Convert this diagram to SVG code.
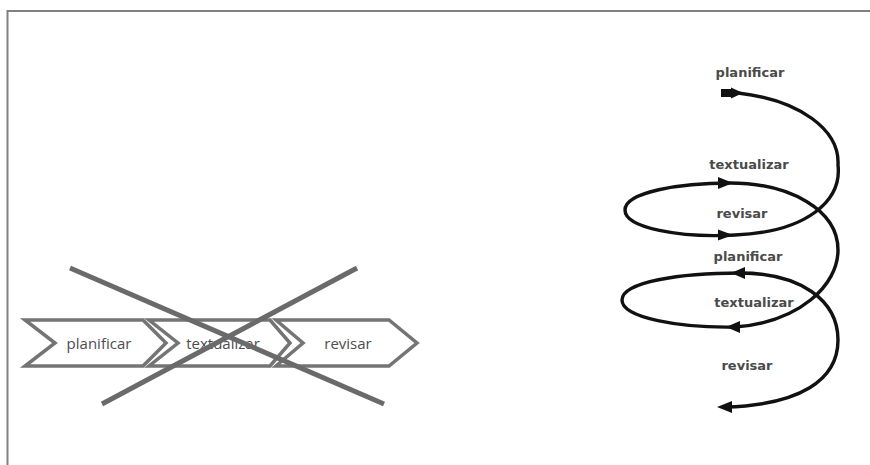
<svg xmlns="http://www.w3.org/2000/svg" width="870" height="465" viewBox="0 0 870 465">
<style>
.frame{stroke:#808080;stroke-width:2;fill:none}
.chev{fill:#fff;stroke:#747474;stroke-width:3.5;stroke-linejoin:miter}
.clab{font-family:"Open Sans","DejaVu Sans",sans-serif;font-size:15px;fill:#4d4d4d;text-anchor:middle}
.cross{stroke:#6a6a6a;stroke-width:5;stroke-linecap:butt}
.slab{font-family:"DejaVu Sans","Liberation Sans",sans-serif;font-weight:bold;font-size:13px;fill:#4a4a4a;text-anchor:middle}
.spiral{fill:none;stroke:#111;stroke-width:3.4}
.head{fill:#111}
</style>
<rect width="870" height="465" fill="#fff"/>
<g id="frame">
<line class="frame" x1="7.5" y1="11" x2="870" y2="11"/>
<line class="frame" x1="7.5" y1="10" x2="7.5" y2="465"/>
</g>
<g id="chev-planificar">
<polygon class="chev" points="25,320 143,320 166,343 143,366 25,366 55,343"/>
<text class="clab" x="99" y="348.5">planificar</text>
</g>
<g id="chev-textualizar">
<polygon class="chev" points="149,320 270,320 290,343 270,366 149,366 178,343"/>
<text class="clab" x="223" y="348.5">textualizar</text>
</g>
<g id="chev-revisar">
<polygon class="chev" points="276,320 389,320 417,343 389,366 276,366 303,343"/>
<text class="clab" x="348" y="348.5">revisar</text>
</g>
<g id="cross">
<line class="cross" x1="70" y1="268" x2="384" y2="404"/>
<line class="cross" x1="357" y1="268" x2="102" y2="404"/>
</g>
<g id="s-planificar-1"><text class="slab" x="750" y="77">planificar</text></g>
<g id="s-textualizar-1"><text class="slab" x="749" y="169">textualizar</text></g>
<g id="s-revisar-1"><text class="slab" x="742" y="218">revisar</text></g>
<g id="s-planificar-2"><text class="slab" x="748" y="261">planificar</text></g>
<g id="s-textualizar-2"><text class="slab" x="754" y="307">textualizar</text></g>
<g id="s-revisar-2"><text class="slab" x="747" y="370">revisar</text></g>
<g id="connectors">
<path class="spiral" d="M738,93 C800,100 840,130 838,165 C842,200 808,232 735,235 C680,238 625,228 625,210 C625,192 680,183 730,183 C790,183 838,210 838,250 C838,285 800,322 735,327 C680,328 622,318 622,300 C622,282 680,273 740,273 C800,273 838,300 838,340 C838,380 800,405 725,407"/>
<rect class="head" x="721" y="89" width="11" height="8"/>
<polygon class="head" points="743,93 731,87.5 731,98.5"/>
<polygon class="head" points="733,183 718,177 718,189"/>
<polygon class="head" points="733,235 718,229.5 718,240.5"/>
<polygon class="head" points="731,273 745,267 745,279"/>
<polygon class="head" points="726,327 740,321 740,333"/>
<polygon class="head" points="717,407 732,401 732,413"/>
</g>
</svg>
